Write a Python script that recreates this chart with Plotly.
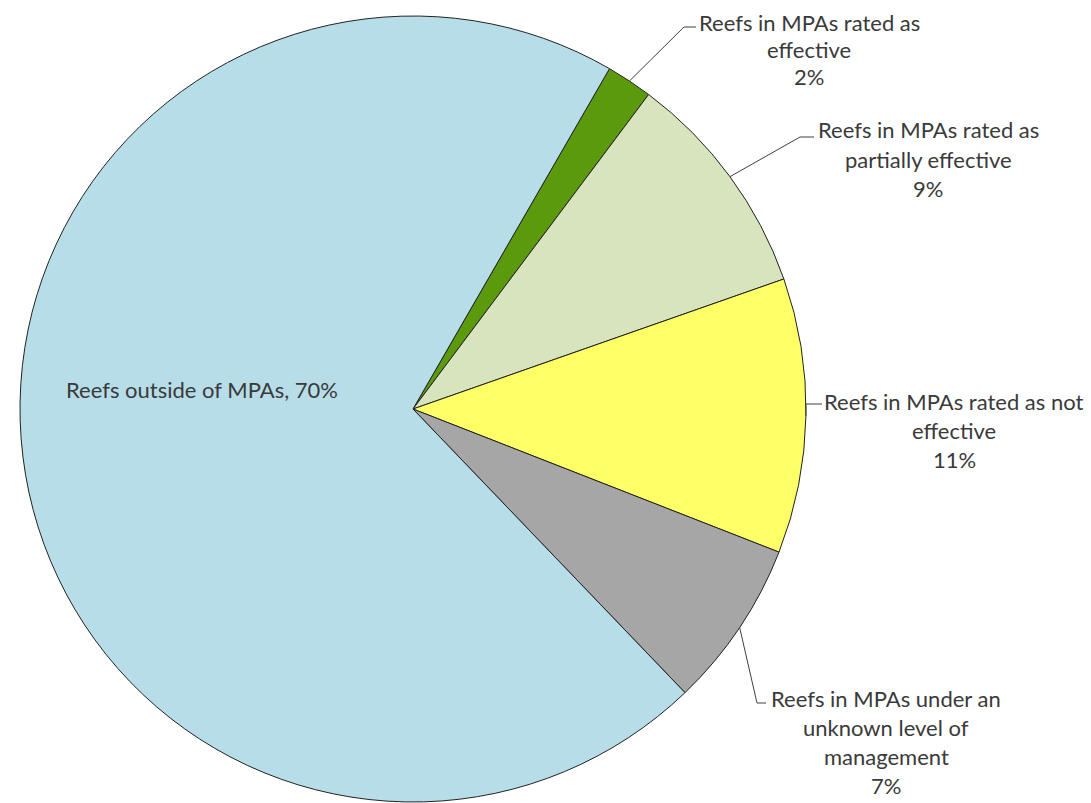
import math
import plotly.graph_objects as go

# ---- data ----
labels = [
    "Reefs in MPAs rated as effective",
    "Reefs in MPAs rated as partially effective",
    "Reefs in MPAs rated as not effective",
    "Reefs in MPAs under an unknown level of management",
    "Reefs outside of MPAs",
]
values = [1.9, 9.4, 11.3, 6.9, 70.5]
colors = ["#5B9A0C", "#D7E4BD", "#FFFF66", "#A6A6A6", "#B7DEE8"]
label_lines = [
    ["Reefs in MPAs rated as", "effective"],
    ["Reefs in MPAs rated as", "partially effective"],
    ["Reefs in MPAs rated as not", "effective"],
    ["Reefs in MPAs under an", "unknown level of", "management"],
    ["Reefs outside of MPAs"],
]

W, H = 1091, 803
CX, CY, R = 413, 409, 393
ROT = 30
FONT = "Lato"
FSIZE = 22
TXT = "#3A3A3A"

def px(x):
    return x / W

def py(y):
    return 1 - y / H

fig = go.Figure()
fig.add_trace(go.Pie(
    labels=labels, values=values, sort=False, direction="clockwise",
    rotation=ROT, textinfo="none", hoverinfo="label+percent",
    marker=dict(colors=colors, line=dict(color="#222222", width=1)),
    domain=dict(x=[px(CX - R), px(CX + R)], y=[py(CY + R), py(CY - R)]),
    showlegend=False,
))

total = sum(values)
pcts = [f"{round(v / total * 100)}%" for v in values]

# label layout (pixel positions): center x, first-line y, line spacing, elbow, line end
layout_spec = [
    dict(cx=809, y0=22, dy=27.5, elbow=(684, 27), end=(696, 27)),
    dict(cx=928, y0=130, dy=29, elbow=(800, 137), end=(814, 137)),
    dict(cx=954, y0=401, dy=29.5, elbow=(806, 404), end=(822, 404)),
    dict(cx=886, y0=698, dy=29, elbow=(757, 703), end=(766, 703)),
]

shapes = []
annotations = []
cum = 0.0
for i, v in enumerate(values):
    mid = ROT + (cum + v / 2) / total * 360
    cum += v
    if i < 4:
        a = math.radians(mid)
        ax, ay = CX + R * math.sin(a), CY - R * math.cos(a)
        spec = layout_spec[i]
        ex, ey = spec["elbow"]
        tx, ty = spec["end"]
        shapes.append(dict(type="path", xref="paper", yref="paper",
                           path=f"M {px(ax)},{py(ay)} L {px(ex)},{py(ey)} L {px(tx)},{py(ty)}",
                           line=dict(color="#404040", width=1)))
        lines = label_lines[i] + [pcts[i]]
        for k, t in enumerate(lines):
            annotations.append(dict(
                x=px(spec["cx"]), y=py(spec["y0"] + k * spec["dy"]),
                xref="paper", yref="paper", text=t, showarrow=False,
                xanchor="center", yanchor="middle",
                font=dict(family=FONT, size=FSIZE, color=TXT)))
    else:
        annotations.append(dict(
            x=px(202), y=py(390), xref="paper", yref="paper",
            text=f"{label_lines[i][0]}, {pcts[i]}", showarrow=False,
            xanchor="center", yanchor="middle",
            font=dict(family=FONT, size=FSIZE, color=TXT)))

fig.update_layout(
    width=W, height=H, autosize=False,
    margin=dict(l=0, r=0, t=0, b=0),
    paper_bgcolor="white", plot_bgcolor="white",
    shapes=shapes, annotations=annotations,
)

fig.write_html("out.html")
